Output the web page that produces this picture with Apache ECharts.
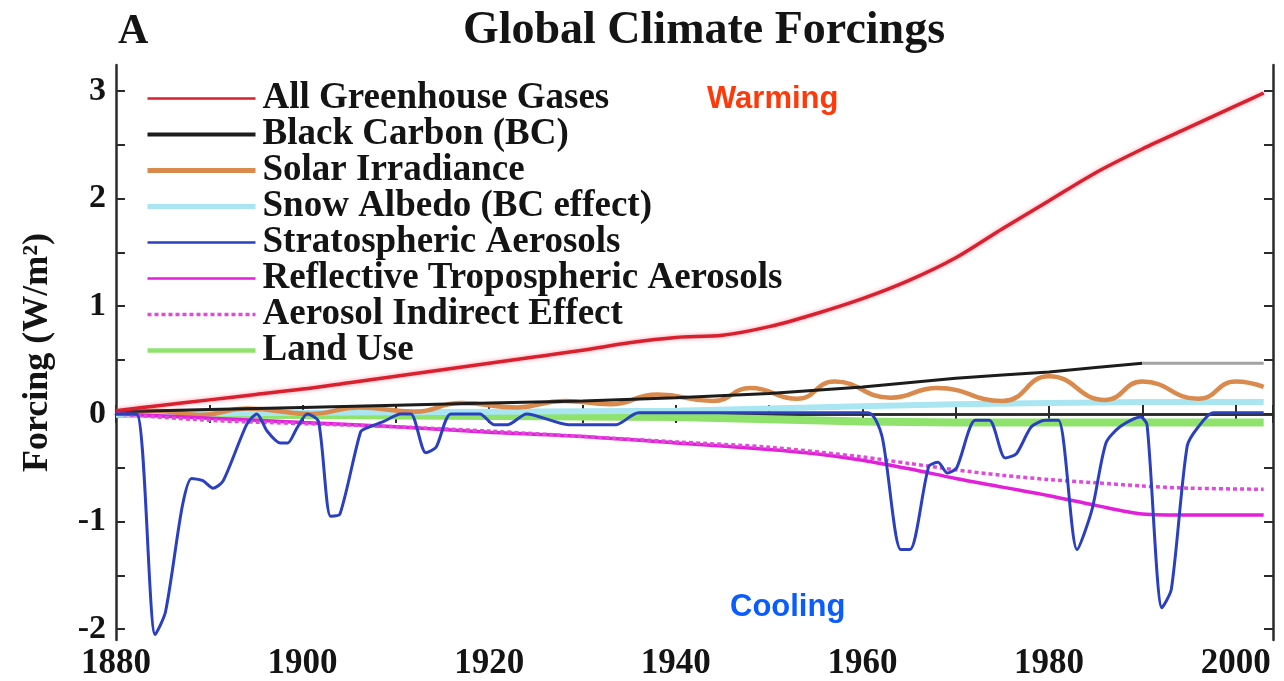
<!DOCTYPE html>
<html>
<head>
<meta charset="utf-8">
<script src="https://cdn.jsdelivr.net/npm/echarts@6/dist/echarts.min.js"></script>
<style>
  html, body { margin: 0; padding: 0; background: #fff; }
  #chart { width: 1284px; height: 681px; }
</style>
</head>
<body>
<div id="chart"></div>
<script>
// Forcing series (W/m²), each with its own sampled years
const ghgYears   = [1880, 1885, 1890, 1895, 1900, 1905, 1910, 1915, 1920, 1925, 1930, 1935, 1940, 1945, 1950, 1955, 1960, 1965, 1970, 1975, 1980, 1985, 1990, 1995, 2000, 2003];
const ghgValues  = [0.03, 0.08, 0.13, 0.18, 0.23, 0.29, 0.35, 0.41, 0.47, 0.53, 0.59, 0.66, 0.71, 0.73, 0.81, 0.93, 1.07, 1.24, 1.45, 1.72, 1.98, 2.24, 2.46, 2.66, 2.86, 2.98];

const bcYears    = [1880, 1890, 1900, 1910, 1920, 1930, 1940, 1950, 1960, 1970, 1975, 1980, 1985, 1990];
const bcValues   = [0.02, 0.04, 0.06, 0.08, 0.10, 0.12, 0.15, 0.19, 0.25, 0.33, 0.36, 0.39, 0.43, 0.47];
const bcTailYears  = [1990, 2003];
const bcTailValues = [0.47, 0.47];

const solarYears  = [1880, 1884, 1889, 1894, 1901, 1906, 1912, 1917, 1923, 1928, 1933, 1938, 1944, 1948, 1953, 1957, 1963, 1968, 1975, 1980, 1986, 1990, 1996, 2000, 2003];
const solarValues = [0.00, 0.03, -0.01, 0.05, 0.00, 0.06, 0.02, 0.10, 0.06, 0.12, 0.09, 0.18, 0.12, 0.24, 0.14, 0.30, 0.15, 0.24, 0.12, 0.35, 0.13, 0.30, 0.14, 0.30, 0.25];

const snowYears  = [1880, 1900, 1920, 1940, 1950, 1960, 1970, 1980, 1990, 2003];
const snowValues = [0.00, 0.01, 0.02, 0.03, 0.05, 0.07, 0.09, 0.10, 0.11, 0.11];

const stratYears  = [1880, 1882.2, 1884.2, 1885.3, 1887.1, 1888.1, 1889.3, 1890.4, 1891.5, 1894, 1895.1, 1896.2, 1897.6, 1898.4, 1899.4, 1900.5, 1901.7, 1903, 1904, 1906.2, 1906.9, 1908.7, 1910.5, 1911.6, 1913.2, 1914.3, 1915.9, 1919, 1920.5, 1922, 1924, 1928.5, 1930, 1932, 1933.6, 1936, 1960.6, 1962.1, 1964.1, 1965.1, 1967.1, 1968.1, 1969.1, 1970.1, 1972.1, 1973.6, 1975.3, 1976.5, 1978.1, 1979.6, 1981, 1983, 1984.6, 1986.1, 1987.6, 1989.8, 1990.5, 1992.1, 1993.1, 1994.8, 1996, 1997.6, 2003];
const stratValues = [0.00, 0.00, -2.05, -1.84, -0.86, -0.60, -0.62, -0.69, -0.62, -0.10, 0.00, -0.16, -0.27, -0.27, -0.13, 0.00, -0.07, -0.95, -0.93, -0.17, -0.13, -0.07, 0.00, 0.00, -0.36, -0.31, 0.00, 0.00, -0.10, -0.10, 0.00, -0.10, -0.10, -0.10, -0.10, 0.01, 0.01, -0.21, -1.26, -1.26, -0.49, -0.45, -0.55, -0.50, -0.06, -0.06, -0.41, -0.37, -0.12, -0.06, -0.06, -1.26, -0.89, -0.27, -0.12, -0.03, -0.10, -1.80, -1.63, -0.30, -0.12, 0.01, 0.01];

const reflYears  = [1880, 1890, 1900, 1910, 1920, 1930, 1940, 1950, 1955, 1960, 1965, 1970, 1975, 1980, 1985, 1990, 1995, 2003];
const reflValues = [0.00, -0.04, -0.08, -0.12, -0.17, -0.21, -0.27, -0.33, -0.37, -0.43, -0.51, -0.60, -0.68, -0.76, -0.85, -0.93, -0.94, -0.94];

const indirYears  = [1880, 1890, 1900, 1910, 1920, 1930, 1940, 1950, 1960, 1965, 1970, 1975, 1980, 1985, 1990, 1995, 2003];
const indirValues = [0.00, -0.06, -0.09, -0.12, -0.16, -0.21, -0.26, -0.31, -0.40, -0.46, -0.52, -0.57, -0.61, -0.64, -0.67, -0.69, -0.70];

const landYears  = [1880, 1900, 1920, 1940, 1950, 1960, 1970, 2003];
const landValues = [0.00, -0.01, -0.02, -0.03, -0.05, -0.07, -0.08, -0.08];

const seriesNames = [
  'All Greenhouse Gases',
  'Black Carbon (BC)',
  'Solar Irradiance',
  'Snow Albedo (BC effect)',
  'Stratospheric Aerosols',
  'Reflective Tropospheric Aerosols',
  'Aerosol Indirect Effect',
  'Land Use'
];
// stroke width of each key sample, in the same order as the names
const keyWidths = [2.5, 4, 5, 5, 2.5, 2.5, 3.5, 4.5];

// Axis ticks and labels
const yLabelValues = [-2, -1, 0, 1, 2, 3];
const yTickValues  = [-2, -1.5, -1, -0.5, 0, 0.5, 1, 1.5, 2, 2.5, 3];
const xLabelYears  = [1880, 1900, 1920, 1940, 1960, 1980, 2000];

const zip = (xs, ys) => xs.map((x, i) => [x, ys[i]]);

const serif = '"Liberation Serif", "DejaVu Serif", serif';
const axisColor = '#2b2b2b';

const chart = echarts.init(document.getElementById('chart'), null, { renderer: 'canvas' });

function lineSeries(name, data, style, extra) {
  return Object.assign({
    name: name,
    type: 'line',
    data: data,
    showSymbol: false,
    symbol: 'none',
    lineStyle: style,
    itemStyle: { color: style.color },
    emphasis: { disabled: true },
    animation: false
  }, extra || {});
}

const option = {
  backgroundColor: '#ffffff',
  animation: false,
  grid: { left: 116, right: 11, top: 65, bottom: 40, containLabel: false },
  legend: {
    data: seriesNames.map((name, i) => ({ name: name, lineStyle: { width: keyWidths[i] } })),
    orient: 'vertical',
    left: 140,
    top: 75,
    itemWidth: 108,
    itemHeight: 14,
    itemGap: -1,
    selectedMode: false,
    // line-only key samples
    itemStyle: { color: 'rgba(0,0,0,0)', borderColor: 'rgba(0,0,0,0)', borderWidth: 0, opacity: 0 },
    textStyle: { fontFamily: serif, fontWeight: 'bold', fontSize: 37, color: '#141414', lineHeight: 33, padding: [0, 0, 0, 2] }
  },
  xAxis: [
    {
      type: 'value', min: 1880, max: 2004, interval: 10,
      axisLine: { lineStyle: { color: axisColor, width: 2.5 } },
      axisTick: { inside: true, length: 9, lineStyle: { color: axisColor, width: 2 } },
      axisLabel: {
        margin: 6,
        fontFamily: serif, fontWeight: 'bold', fontSize: 35, color: '#141414',
        formatter: v => (xLabelYears.indexOf(v) >= 0 ? String(v) : '')
      },
      splitLine: { show: false }
    },
    {
      type: 'value', min: 1880, max: 2004, interval: 10, position: 'top',
      axisLine: { lineStyle: { color: axisColor, width: 2.5 } },
      axisTick: { inside: true, length: 9, lineStyle: { color: axisColor, width: 2 } },
      axisLabel: { show: false },
      splitLine: { show: false }
    }
  ],
  yAxis: [
    {
      type: 'value', min: -2.1, max: 3.24,
      name: 'Forcing (W/m²)',
      nameLocation: 'middle',
      nameRotate: 90,
      nameGap: 60,
      nameTextStyle: { fontFamily: serif, fontWeight: 'bold', fontSize: 36, color: '#141414' },
      axisLine: { lineStyle: { color: axisColor, width: 2.5 } },
      axisTick: { inside: true, length: 9, customValues: yTickValues, lineStyle: { color: axisColor, width: 2 } },
      axisLabel: { margin: 10, customValues: yLabelValues, fontFamily: serif, fontWeight: 'bold', fontSize: 34, color: '#141414' },
      splitLine: { show: false }
    },
    {
      type: 'value', min: -2.1, max: 3.24, position: 'right',
      axisLine: { lineStyle: { color: axisColor, width: 2.5 } },
      axisTick: { inside: true, length: 9, customValues: yTickValues, lineStyle: { color: axisColor, width: 2 } },
      axisLabel: { show: false },
      splitLine: { show: false }
    }
  ],
  graphic: [
    { type: 'text', left: 118, top: 11, style: { text: 'A', fontFamily: serif, fontWeight: 'bold', fontSize: 42, fill: '#141414' } },
    { type: 'text', x: 704, y: 31, style: { text: 'Global Climate Forcings', fontFamily: serif, fontWeight: 'bold', fontSize: 46, fill: '#141414', textAlign: 'center', textVerticalAlign: 'middle' } },
    { type: 'text', left: 707, top: 84, z: 50, style: { text: 'Warming', fontFamily: '"Liberation Sans", Arial, sans-serif', fontWeight: 'bold', fontSize: 31, fill: '#ff3a0a' } },
    { type: 'text', left: 730, top: 592, z: 50, style: { text: 'Cooling', fontFamily: '"Liberation Sans", Arial, sans-serif', fontWeight: 'bold', fontSize: 31, fill: '#0a5cff' } }
  ],
  series: [
    lineSeries('Land Use', zip(landYears, landValues), { color: '#8fe36c', width: 8 }, { z: 2 }),
    lineSeries('Snow Albedo (BC effect)', zip(snowYears, snowValues), { color: '#a9e6f2', width: 6 }, { z: 3 }),
    lineSeries('Solar Irradiance', zip(solarYears, solarValues), { color: '#d98a4c', width: 4.5 }, { z: 4, smooth: 0.5 }),
    lineSeries('Black Carbon (BC)', zip(bcYears, bcValues), { color: '#1c1c1c', width: 3 }, { z: 5 }),
    lineSeries('', zip(bcTailYears, bcTailValues), { color: '#a3a3a3', width: 3 }, { z: 5 }),
    lineSeries('Reflective Tropospheric Aerosols', zip(reflYears, reflValues), { color: '#e21fd9', width: 3.5 }, { z: 6, smooth: 0.3 }),
    lineSeries('Aerosol Indirect Effect', zip(indirYears, indirValues), { color: '#e049d9', width: 3.5, type: [4, 3] }, { z: 6, smooth: 0.3 }),
    lineSeries('All Greenhouse Gases', zip(ghgYears, ghgValues), { color: '#d8202e', width: 3.5, shadowColor: 'rgba(255,110,130,0.7)', shadowBlur: 4 }, { z: 7, smooth: 0.3 }),
    lineSeries('Stratospheric Aerosols', zip(stratYears, stratValues), { color: '#2a40c0', width: 3 }, { z: 8, smooth: 0.25 })
  ]
};

chart.setOption(option);
</script>
</body>
</html>
